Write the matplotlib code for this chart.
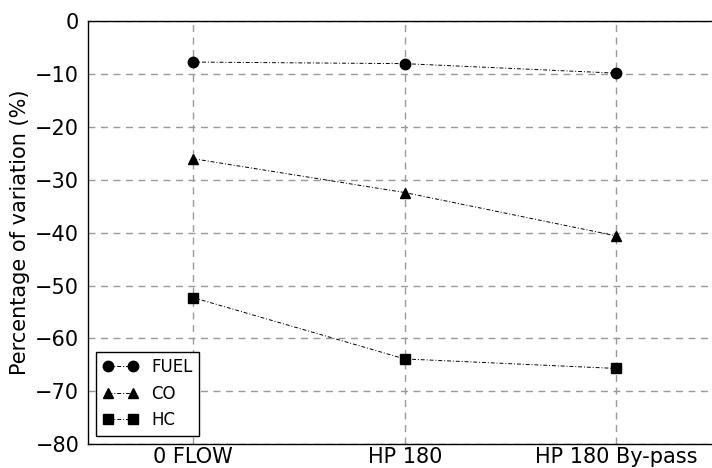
import matplotlib
matplotlib.use("Agg")
import matplotlib.pyplot as plt
import numpy as np

categories = ["0 FLOW", "HP 180", "HP 180 By-pass"]
fuel = [-7.7, -8.0, -9.8]
co = [-26.0, -32.4, -40.6]
hc = [-52.3, -63.9, -65.7]
yticks = [0, -10, -20, -30, -40, -50, -60, -70, -80]

fig = plt.figure(figsize=(7.12, 4.68), dpi=100)
ax = fig.add_axes([0.123, 0.0513, 0.891, 0.903])

x = np.arange(len(categories))
line_kw = dict(color="black", linestyle=(0, (4, 2, 1, 2)), linewidth=0.7, markersize=7.5)
ax.plot(x, fuel, marker="o", label="FUEL", **line_kw)
ax.plot(x, co, marker="^", label="CO", **line_kw)
ax.plot(x, hc, marker="s", label="HC", **line_kw)

ax.set_xlim(-0.5, 2.5)
ax.set_ylim(-80, 0)
ax.set_xticks(x)
ax.set_xticklabels(categories, fontsize=15)
ax.set_yticks(yticks)
ax.tick_params(axis="y", labelsize=15, pad=6)
ax.tick_params(axis="x", pad=2)
ax.tick_params(length=0)
ax.set_ylabel("Percentage of variation (%)", fontsize=15)

ax.grid(True, color="#999999", linestyle=(0, (5, 4)), linewidth=1.0)
ax.set_axisbelow(True)
for s in ax.spines.values():
    s.set_color("black")
    s.set_linewidth(1.0)

leg = ax.legend(loc="lower left", fontsize=12, numpoints=2, handlelength=2.1,
                fancybox=False, framealpha=1, edgecolor="black")
leg.get_frame().set_linewidth(1.0)

fig.savefig("out.png", dpi=100)
